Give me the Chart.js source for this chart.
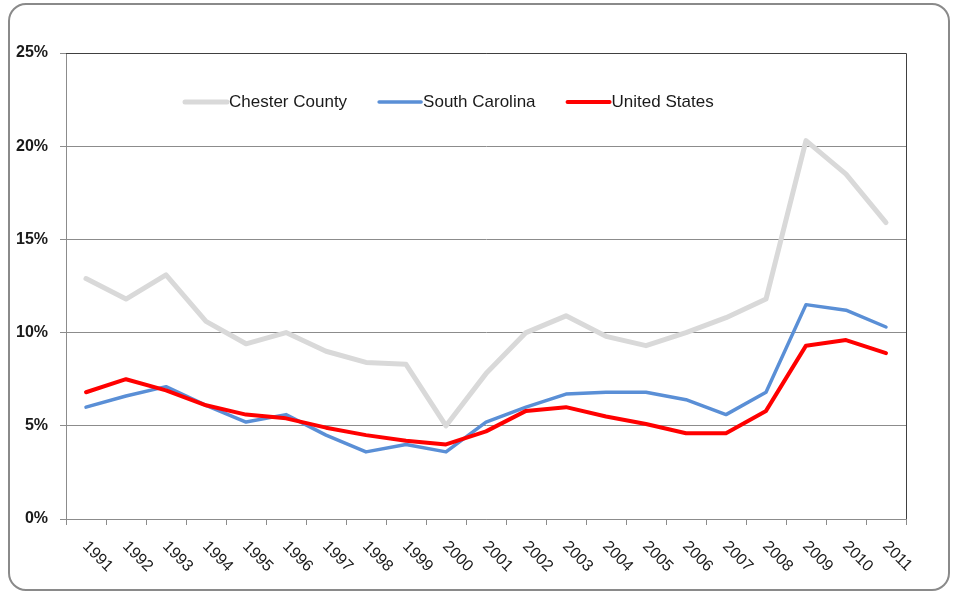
<!DOCTYPE html>
<html>
<head>
<meta charset="utf-8">
<script src="https://cdn.jsdelivr.net/npm/chart.js@4.4.1/dist/chart.umd.min.js"></script>
<style>
  body { margin: 0; background: #fff; }
  #wrap { position: relative; width: 953px; height: 594px; }
  #frame {
    position: absolute; left: 8px; top: 3px; width: 938px; height: 584px;
    border: 2px solid #8a8a8a; border-radius: 18px;
  }
  #chart { position: absolute; left: 0; top: 0; }
</style>
</head>
<body>
<div id="wrap">
  <div id="frame"></div>
  <canvas id="chart" width="953" height="594"></canvas>
</div>
<script>
const years = ["1991", "1992", "1993", "1994", "1995", "1996", "1997", "1998", "1999", "2000",
    "2001", "2002", "2003", "2004", "2005", "2006", "2007", "2008", "2009", "2010", "2011"];
const chesterCounty = [12.9, 11.8, 13.1, 10.6, 9.4, 10.0, 9.0, 8.4, 8.3, 5.0,
    7.8, 10.0, 10.9, 9.8, 9.3, 10.0, 10.8, 11.8, 20.3, 18.5, 15.9];
const southCarolina = [6.0, 6.6, 7.1, 6.1, 5.2, 5.6, 4.5, 3.6, 4.0, 3.6,
    5.2, 6.0, 6.7, 6.8, 6.8, 6.4, 5.6, 6.8, 11.5, 11.2, 10.3];
const unitedStates = [6.8, 7.5, 6.9, 6.1, 5.6, 5.4, 4.9, 4.5, 4.2, 4.0,
    4.7, 5.8, 6.0, 5.5, 5.1, 4.6, 4.6, 5.8, 9.3, 9.6, 8.9];
const yTicks = [0, 5, 10, 15, 20, 25];

const FONT = "'Liberation Sans', Arial, sans-serif";

// legend inside the plot area + rotated year labels + plot border
const extras = {
    id: "extras",
    afterDraw(chart) {
        const ctx = chart.ctx;
        const area = chart.chartArea;

        // dark top / right edge of the plot area
        ctx.save();
        ctx.strokeStyle = "#404040";
        ctx.lineWidth = 1;
        ctx.beginPath();
        ctx.moveTo(area.left, area.top + 0.5);
        ctx.lineTo(area.right + 0.5, area.top + 0.5);
        ctx.lineTo(area.right + 0.5, area.bottom);
        ctx.stroke();
        ctx.restore();

        // year labels, rotated clockwise
        const xs = chart.scales.x;
        ctx.save();
        ctx.font = "16px " + FONT;
        ctx.fillStyle = "#1a1a1a";
        ctx.textAlign = "left";
        ctx.textBaseline = "middle";
        years.forEach(function (label, i) {
            const x = xs.getPixelForTick(i);
            ctx.save();
            ctx.translate(x - 1, area.bottom + 25);
            ctx.rotate(Math.PI / 4);
            ctx.fillText(label, 0, 0);
            ctx.restore();
        });
        ctx.restore();

        // legend
        ctx.save();
        ctx.font = "17px " + FONT;
        ctx.textBaseline = "middle";
        ctx.textAlign = "left";
        let lx = 185;
        const ly = 102;
        chart.data.datasets.forEach(function (ds) {
            ctx.strokeStyle = ds.borderColor;
            ctx.lineWidth = ds.borderWidth;
            ctx.lineCap = "round";
            ctx.beginPath();
            ctx.moveTo(lx, ly);
            ctx.lineTo(lx + 42, ly);
            ctx.stroke();
            ctx.fillStyle = "#1a1a1a";
            ctx.fillText(ds.label, lx + 44, ly);
            lx += 44 + ctx.measureText(ds.label).width + 32;
        });
        ctx.restore();
    }
};

new Chart(document.getElementById("chart").getContext("2d"), {
    type: "line",
    data: {
        labels: years,
        datasets: [{
            label: "Chester County",
            data: chesterCounty,
            borderColor: "#d9d9d9",
            borderWidth: 5,
            order: 3
        }, {
            label: "South Carolina",
            data: southCarolina,
            borderColor: "#5a8fd6",
            borderWidth: 3.5,
            order: 2
        }, {
            label: "United States",
            data: unitedStates,
            borderColor: "#ff0000",
            borderWidth: 4,
            order: 1
        }]
    },
    options: {
        responsive: false,
        animation: false,
        devicePixelRatio: 1,
        layout: { padding: { left: 0, right: 47, top: 53, bottom: 0 } },
        elements: {
            point: { radius: 0, hoverRadius: 0 },
            line: { tension: 0, borderJoinStyle: "round", borderCapStyle: "round" }
        },
        plugins: {
            legend: { display: false },
            tooltip: { enabled: false }
        },
        scales: {
            x: {
                offset: true,
                grid: { offset: true, drawOnChartArea: false, drawTicks: true, tickLength: 6, color: "#8c8c8c" },
                border: { color: "#8c8c8c" },
                ticks: { display: false },
                afterFit(scale) { scale.height = 75; }
            },
            y: {
                min: 0,
                max: 25,
                afterBuildTicks(scale) { scale.ticks = yTicks.map(v => ({ value: v })); },
                grid: { color: "#8c8c8c", tickLength: 6 },
                border: { color: "#8c8c8c" },
                ticks: {
                    padding: 12,
                    color: "#1a1a1a",
                    font: { family: FONT, size: 16, weight: "bold" },
                    callback: v => v + "%"
                },
                afterFit(scale) { scale.width = 66; }
            }
        }
    },
    plugins: [extras]
});
</script>
</body>
</html>
